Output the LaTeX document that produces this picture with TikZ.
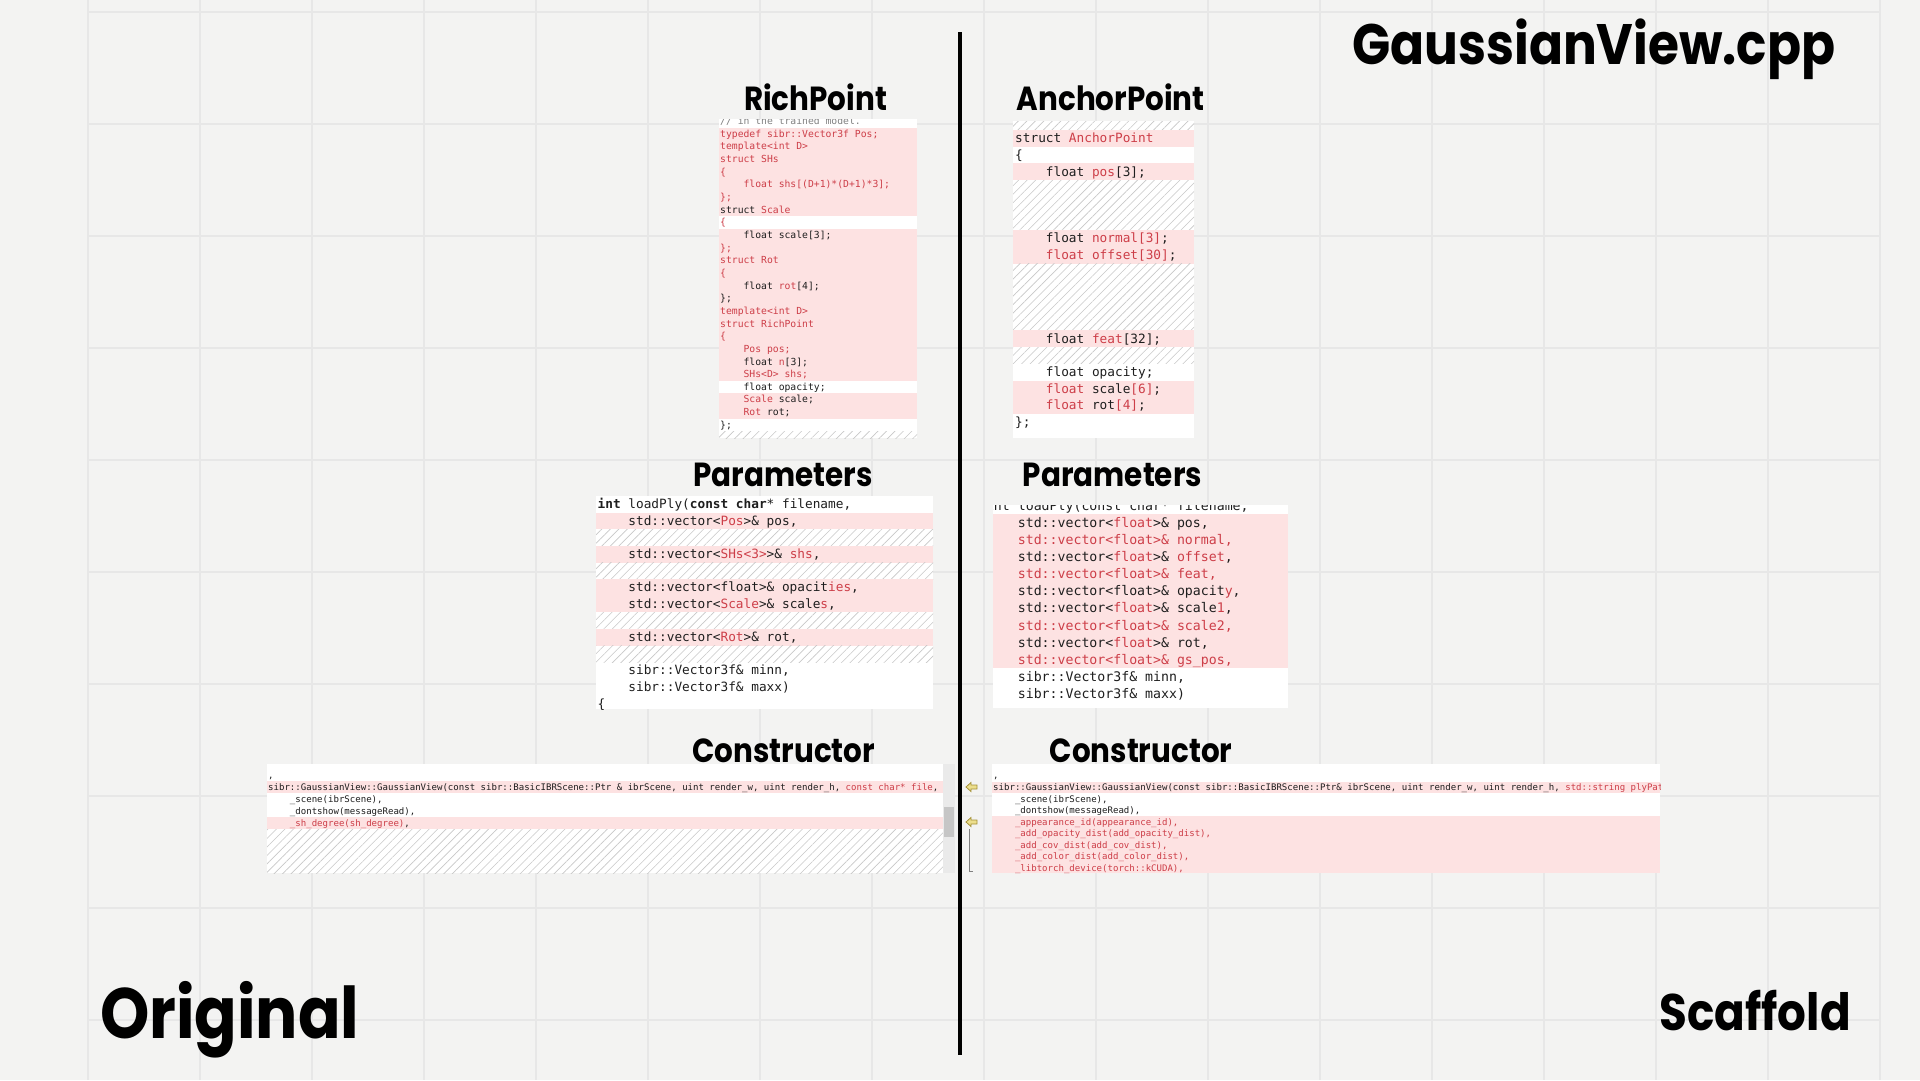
\documentclass[tikz,border=0pt]{standalone}
\usepackage{fontspec}
\usetikzlibrary{patterns.meta}

\newfontfamily\titlefont{Poppins}[FakeStretch=0.88]
\newfontfamily\codefont{DejaVu Sans Mono}

\definecolor{pagebg}{RGB}{243,243,242}
\definecolor{gridgrey}{RGB}{231,231,231}
\definecolor{diffpink}{RGB}{253,226,226}
\definecolor{diffred}{RGB}{205,62,72}
\definecolor{codeblack}{RGB}{30,30,30}
\definecolor{hatchgrey}{RGB}{200,200,200}
\definecolor{scrolltrack}{RGB}{234,234,234}
\definecolor{scrollthumb}{RGB}{198,198,198}
\definecolor{markfill}{RGB}{236,222,140}
\definecolor{markedge}{RGB}{165,145,55}

\newcommand\rd[1]{\textcolor{diffred}{#1}}
\newcommand\tb{\hspace*{2.408em}}

\tikzset{
  heading/.style={font=\titlefont\bfseries\fontsize{33.4}{40}\selectfont, anchor=base, inner sep=0pt},
  gridline/.style={draw=gridgrey, line width=2.5pt},
  hatchband/.style={pattern={Lines[angle=45,distance=6pt,line width=0.6pt]}, pattern color=hatchgrey},
  rpline/.style={font=\codefont\fontsize{9.73}{12}\selectfont, text=codeblack, anchor=base west, inner sep=0pt, yshift=-3.3pt},
  bigline/.style={font=\codefont\fontsize{12.76}{15}\selectfont, text=codeblack, anchor=base west, inner sep=0pt, yshift=-4.3pt},
  rparline/.style={font=\codefont\fontsize{13.22}{16}\selectfont, text=codeblack, anchor=base west, inner sep=0pt, yshift=-4.5pt},
  ctorline/.style={font=\codefont\fontsize{9.05}{11}\selectfont, text=codeblack, anchor=base west, inner sep=0pt, yshift=-3.1pt},
}

\begin{document}
\begin{tikzpicture}[x=1pt, y=-1pt]
    \useasboundingbox (0,0) rectangle (1920,1080);

    % paper and grid
    \fill[pagebg] (0,0) rectangle (1920,1080);
    \foreach \gx in {0,...,16}
        \draw[gridline] ({88+112*\gx},0) -- ({88+112*\gx},1080);
    \foreach \gy in {0,...,9}
        \draw[gridline] (88,{12+112*\gy}) -- (1880,{12+112*\gy});

    % divider
    \draw[line width=4pt] (960,32) -- (960,1055);

    % headings
    \node[heading, font=\titlefont\bfseries\fontsize{57}{64}\selectfont] (fileTitle) at (1593.7,64) {GaussianView.cpp};
    \node[heading, anchor=base west, font=\titlefont\bfseries\fontsize{71.3}{80}\selectfont] (origTitle) at (100,1038) {Original};
    \node[heading, anchor=base east, font=\titlefont\bfseries\fontsize{51.4}{60}\selectfont] (scafTitle) at (1851,1030) {Scaffold};
    \node[heading] (richTitle) at (815.5,110) {RichPoint};
    \node[heading] (anchorTitle) at (1110.7,110) {AnchorPoint};
    \node[heading] (paramLTitle) at (783,486) {Parameters};
    \node[heading] (paramRTitle) at (1112.5,486) {Parameters};
    \node[heading] (ctorLTitle) at (783.7,762) {Constructor};
    \node[heading] (ctorRTitle) at (1141,762) {Constructor};

    % RichPoint struct
    \begin{scope}
        \clip (719,119) rectangle (917,438);
        \fill[white] (719,119) rectangle (917,438);
        \fill[diffpink] (719,127.7) rectangle (917,216.2);
        \fill[diffpink] (719,228.9) rectangle (917,380.7);
        \fill[diffpink] (719,393.3) rectangle (917,418.6);
        \fill[hatchband] (719,431.3) rectangle (917,438);
        \node[rpline, text=gray] (rp0) at (720,121.35) {// in the trained model.};
        \foreach \i/\t in {1/{\rd{typedef sibr::Vector3f Pos;}}, 2/{\rd{template<int D>}},
            3/{\rd{struct SHs}}, 4/{\rd{\{}}, 5/{\tb\rd{float shs[(D+1)*(D+1)*3];}},
            6/{\rd{\};}}, 7/{struct \rd{Scale}}, 8/{\rd{\{}}, 9/{\tb float scale[3];},
            10/{\rd{\};}}, 11/{\rd{struct Rot}}, 12/{\rd{\{}}, 13/{\tb float \rd{rot}[4];},
            14/{\};}, 15/{\rd{template<int D>}}, 16/{\rd{struct RichPoint}}, 17/{\rd{\{}},
            18/{\tb\rd{Pos pos;}}, 19/{\tb float \rd{n}[3];}, 20/{\tb\rd{SHs<D> shs;}},
            21/{\tb float opacity;}, 22/{\tb\rd{Scale} scale;}, 23/{\tb\rd{Rot} rot;}, 24/{\};}}
            \node[rpline] (rp\i) at (720,{121.35+12.65*\i}) {\t};
    \end{scope}

    % AnchorPoint struct
    \begin{scope}
        \clip (1013,121) rectangle (1194,438);
        \fill[white] (1013,121) rectangle (1194,438);
        \fill[hatchband] (1013,121) rectangle (1194,130.05);
        \fill[diffpink] (1013,130.05) rectangle (1194,146.75);
        \fill[diffpink] (1013,163.45) rectangle (1194,180.15);
        \fill[hatchband] (1013,180.15) rectangle (1194,230.25);
        \fill[diffpink] (1013,230.25) rectangle (1194,263.65);
        \fill[hatchband] (1013,263.65) rectangle (1194,330.45);
        \fill[diffpink] (1013,330.45) rectangle (1194,347.15);
        \fill[hatchband] (1013,347.15) rectangle (1194,363.85);
        \fill[diffpink] (1013,380.55) rectangle (1194,413.95);
        \foreach \i/\t in {0/{struct \rd{AnchorPoint}}, 1/{\{}, 2/{\tb float \rd{pos}[3];},
            6/{\tb float \rd{normal[3]};}, 7/{\tb\rd{float offset[30]};},
            12/{\tb float \rd{feat}[32];}, 14/{\tb float opacity;},
            15/{\tb\rd{float} scale\rd{[6]};}, 16/{\tb\rd{float} rot\rd{[4]};}, 17/{\};}}
            \node[bigline] (ap\i) at (1015,{138.4+16.7*\i}) {\t};
    \end{scope}

    % loadPly, original
    \begin{scope}
        \clip (596,496) rectangle (933,709);
        \fill[white] (596,496) rectangle (933,709);
        \fill[diffpink] (596,512.8) rectangle (933,529.4);
        \fill[hatchband] (596,529.4) rectangle (933,546);
        \fill[diffpink] (596,546) rectangle (933,562.6);
        \fill[hatchband] (596,562.6) rectangle (933,579.2);
        \fill[diffpink] (596,579.2) rectangle (933,612.4);
        \fill[hatchband] (596,612.4) rectangle (933,629);
        \fill[diffpink] (596,629) rectangle (933,645.6);
        \fill[hatchband] (596,645.6) rectangle (933,662.2);
        \foreach \i/\t in {0/{\textbf{int} loadPly(\textbf{const char}* filename,},
            1/{\tb std::vector<\rd{Pos}>\& pos,}, 3/{\tb std::vector<\rd{SHs<3>}>\& \rd{shs},},
            5/{\tb std::vector<float>\& opacit\rd{ies},}, 6/{\tb std::vector<\rd{Scale}>\& scale\rd{s},},
            8/{\tb std::vector<\rd{Rot}>\& rot,}, 10/{\tb sibr::Vector3f\& minn,},
            11/{\tb sibr::Vector3f\& maxx)}, 12/{\{}}
            \node[bigline] (lp\i) at (597.5,{504.5+16.6*\i}) {\t};
    \end{scope}

    % loadPly, scaffold
    \begin{scope}
        \clip (993,505) rectangle (1288,708);
        \fill[white] (993,505) rectangle (1288,708);
        \fill[diffpink] (993,514.35) rectangle (1288,668.25);
        \foreach \i/\t in {0/{int loadPly(const char* filename,},
            1/{\tb std::vector<\rd{float}>\& pos,}, 2/{\tb\rd{std::vector<float>\& normal,}},
            3/{\tb std::vector<\rd{float}>\& \rd{offset},}, 4/{\tb\rd{std::vector<float>\& feat,}},
            5/{\tb std::vector<float>\& opacit\rd{y},}, 6/{\tb std::vector<\rd{float}>\& scale\rd{1},},
            7/{\tb\rd{std::vector<float>\& scale2,}}, 8/{\tb std::vector<\rd{float}>\& rot,},
            9/{\tb\rd{std::vector<float>\& gs\_pos,}}, 10/{\tb sibr::Vector3f\& minn,},
            11/{\tb sibr::Vector3f\& maxx)}}
            \node[rparline] (sp\i) at (985.8,{505.8+17.1*\i}) {\t};
    \end{scope}

    % constructor, original
    \begin{scope}
        \clip (267,764) rectangle (943,873);
        \fill[white] (267,764) rectangle (943,873);
        \fill[diffpink] (267,781.45) rectangle (943,793.35);
        \fill[diffpink] (267,817.15) rectangle (943,829.05);
        \fill[hatchband] (267,829.05) rectangle (943,873);
        \foreach \i/\t in {0/{,},
            1/{sibr::GaussianView::GaussianView(const sibr::BasicIBRScene::Ptr \& ibrScene, uint render\_w, uint render\_h, \rd{const char* file},},
            2/{\tb\_scene(ibrScene),}, 3/{\tb\_dontshow(messageRead),},
            4/{\tb\rd{\_sh\_degree(sh\_degree)},}}
            \node[ctorline] (lc\i) at (268,{775.5+11.9*\i}) {\t};
    \end{scope}
    \fill[scrolltrack] (943,764) rectangle (955,873);
    \fill[scrollthumb] (944,807) rectangle (954,837);

    % constructor, scaffold
    \begin{scope}
        \clip (992,764) rectangle (1660,873);
        \fill[white] (992,764) rectangle (1660,873);
        \fill[diffpink] (992,781.58) rectangle (1660,793.13);
        \fill[diffpink] (992,816.23) rectangle (1660,873);
        \foreach \i/\t in {0/{,},
            1/{sibr::GaussianView::GaussianView(const sibr::BasicIBRScene::Ptr\& ibrScene, uint render\_w, uint render\_h, \rd{std::string plyPath,}},
            2/{\tb\_scene(ibrScene),}, 3/{\tb\_dontshow(messageRead),},
            4/{\tb\rd{\_appearance\_id(appearance\_id),}}, 5/{\tb\rd{\_add\_opacity\_dist(add\_opacity\_dist),}},
            6/{\tb\rd{\_add\_cov\_dist(add\_cov\_dist),}}, 7/{\tb\rd{\_add\_color\_dist(add\_color\_dist),}},
            8/{\tb\rd{\_libtorch\_device(torch::kCUDA),}}}
            \node[ctorline] (rc\i) at (993,{775.8+11.55*\i}) {\t};
    \end{scope}

    % change markers in the margin
    \foreach \my in {787,822}
        \filldraw[fill=markfill, draw=markedge, line width=0.8pt] (966,\my) -- (971,{\my-4.5}) -- (971,{\my-2})
            -- (977,{\my-2}) -- (977,{\my+2}) -- (971,{\my+2}) -- (971,{\my+4.5}) -- cycle;
    \draw[gray, line width=0.8pt] (969,829) -- (969,871) -- (973,871);

\end{tikzpicture}
\end{document}
